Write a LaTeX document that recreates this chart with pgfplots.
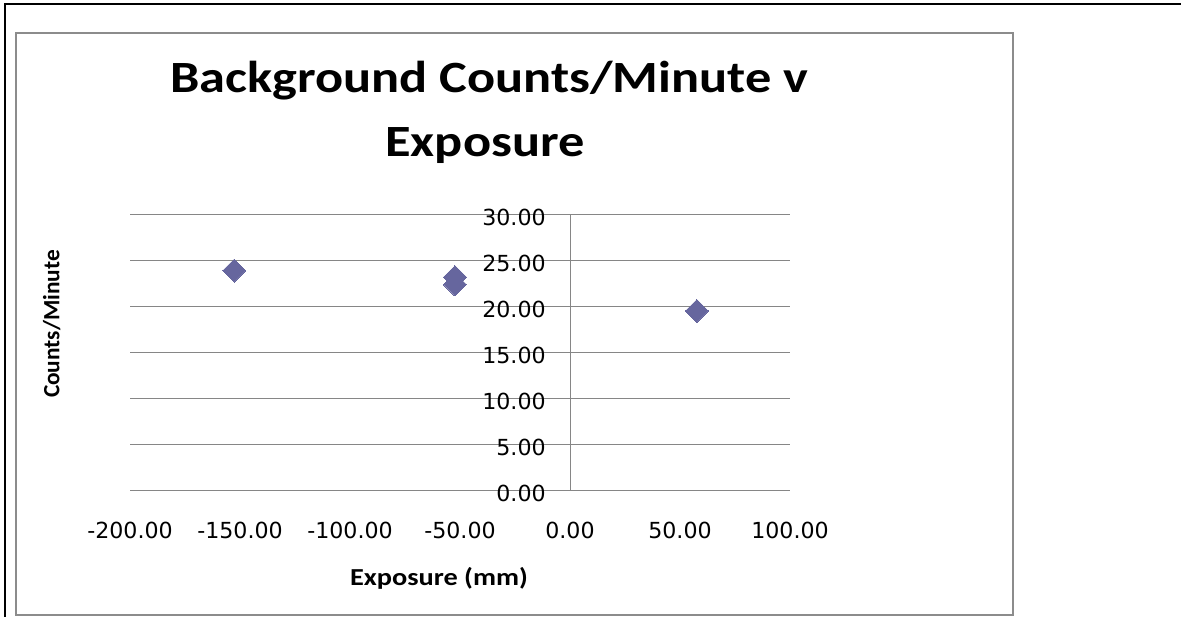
\documentclass[border=0pt]{standalone}
\usepackage{fontspec}
\usepackage{pgfplots}
\pgfplotsset{compat=1.18}
\setmainfont{DejaVu Sans}
\newfontfamily\carlito[FakeStretch=1.172]{Carlito}
\newfontfamily\carlitoaxis[FakeStretch=1.16]{Carlito}
\newfontfamily\carlitoplain{Carlito}
\definecolor{markc}{RGB}{102,102,158}
\definecolor{gridc}{RGB}{134,134,134}
\definecolor{framec}{RGB}{140,140,140}
\begin{document}
\begin{tikzpicture}[x=0.75pt,y=0.75pt]
\useasboundingbox (0,0) rectangle (1181,617);
\draw[black, line width=1.6pt] (5,0) -- (5,613) -- (1181,613);
\draw[framec, line width=1.3pt] (16,584) rectangle (1013,2);
\node[anchor=base, font={\carlito\bfseries\fontsize{33.5}{40}\selectfont}, inner sep=0pt] at (489,524) {Background Counts/Minute v};
\node[anchor=base, font={\carlito\bfseries\fontsize{33.5}{40}\selectfont}, inner sep=0pt] at (485,460.3) {Exposure};
\node[anchor=base, font={\carlitoaxis\bfseries\fontsize{18.3}{22}\selectfont}, inner sep=0pt] at (439,31.3) {Exposure (mm)};
\node[anchor=base, rotate=90, font={\carlitoplain\bfseries\fontsize{17.5}{21}\selectfont}, inner sep=0pt] at (59.3,293) {Counts/Minute};
\begin{axis}[
  at={(427.5pt,94.5pt)}, anchor=origin,
  scale only axis, width=495pt, height=207pt,
  xmin=-200, xmax=100, ymin=0, ymax=30,
  axis x line=bottom, axis y line=left,
  axis line style={-, gridc, line width=0.75pt},
  y axis line style={draw=none},
  xtick={-200,-150,...,100}, ytick={0,5,...,30},
  xticklabels={-200.00,-150.00,-100.00,-50.00,0.00,50.00,100.00},
  yticklabels={0.00,5.00,10.00,15.00,20.00,25.00,30.00},
  extra x ticks={0}, extra x tick labels={},
  extra x tick style={xmajorgrids=true},
  major tick length=0pt,
  ymajorgrids, grid style={gridc, line width=0.75pt},
  tick label style={font=\fontsize{16.6}{20}\selectfont},
  xticklabel style={anchor=north, yshift=-19.5pt},
  yticklabel style={anchor=east, xshift=315.3pt, yshift=-2.2pt},
  clip=false,
]
\addplot[only marks, mark=square*, mark size=6.1pt, mark options={rotate=45, fill=markc, draw=markc, line width=0pt}]
  coordinates {(-152.6,23.95) (-52.3,23.25) (-52.3,22.45) (57.7,19.57)};
\end{axis}
\end{tikzpicture}
\end{document}
